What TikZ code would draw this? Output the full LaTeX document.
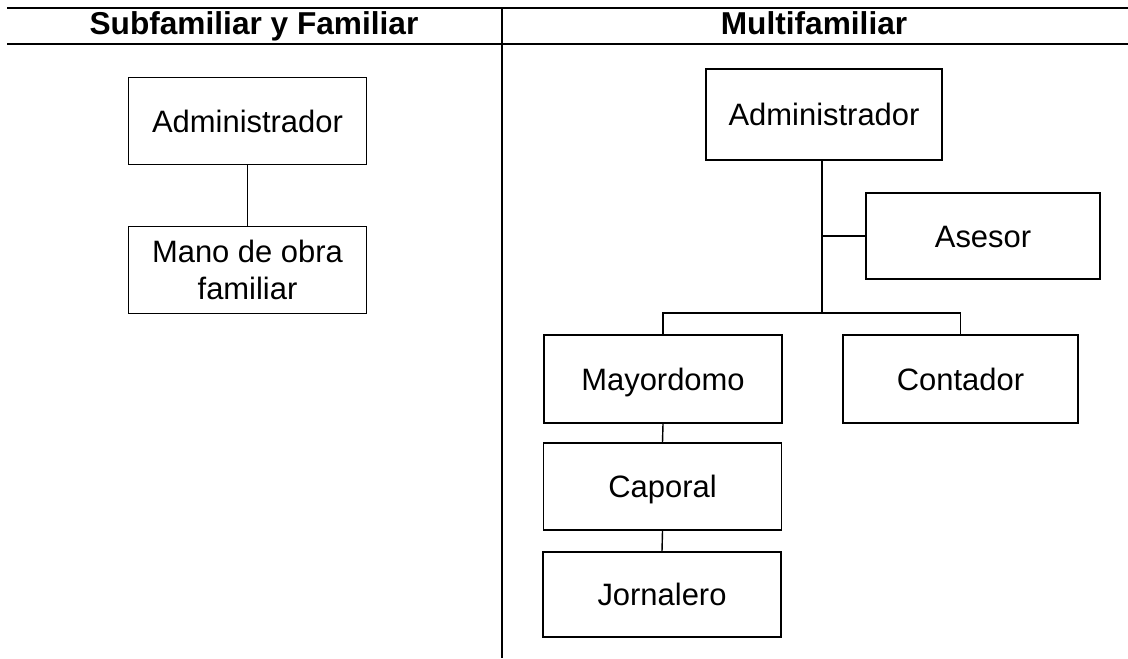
\documentclass[tikz,border=0pt]{standalone}
\usepackage{fontspec}
\setmainfont{Liberation Sans}
\usepackage{tikz}
\usetikzlibrary{positioning}
\tikzset{
  cargo/.style={draw, line width=1.3pt, minimum width=#1, minimum height=87*0.025cm, inner sep=0pt, align=center, font=\fontsize{22}{26}\selectfont, text height=16pt, text depth=0pt},
  cargo/.default=5.95cm,
  titulo/.style={font=\fontsize{22.5}{26}\selectfont\bfseries, anchor=base, inner sep=0pt},
  linea/.style={line width=1pt}
}

\begin{document}
\begin{tikzpicture}[x=0.025cm, y=-0.025cm]
	\useasboundingbox (0,0) rectangle (1128,658);
	% encabezado
	\draw[line width=1.4pt] (7,8)--(1128,8);
	\draw[line width=1.4pt] (7,44)--(1128,44);
	\draw[line width=1pt] (502,8)--(502,658);
	\node[titulo] (subfam) at (254,34) {Subfamiliar y Familiar};
	\node[titulo] (multi) at (814,34) {Multifamiliar};
	% subfamiliar y familiar
	\node[cargo] (admL) at (247.5,121) {Administrador};
	\node[cargo, text height=, text depth=] (manoL) at (247.5,270) {Mano de obra\\familiar};
	\draw[linea] (admL.south)--(manoL.north);
	% multifamiliar
	\node[cargo=5.9cm, minimum height=91*0.025cm] (admR) at (824,114.5) {Administrador};
	\node[cargo=5.85cm, minimum height=86*0.025cm] (asesor) at (983,236) {Asesor};
	\node[cargo, minimum height=88*0.025cm] (mayor) at (663,379) {Mayordomo};
	\node[cargo=5.875cm, minimum height=88*0.025cm] (contador) at (960.5,379) {Contador};
	\node[cargo] (caporal) at (662.5,486.5) {Caporal};
	\node[cargo, minimum height=85*0.025cm] (jornal) at (662,594.5) {Jornalero};
	\coordinate (bus) at (822,313);
	\draw[linea] (admR.south-|bus)--(bus);
	\draw[linea] (asesor.west-|bus)--(asesor.west);
	\draw[linea] (mayor.north)|-(bus)-|(contador.north);
	\draw[linea] (mayor.south)--(caporal.north);
	\draw[linea] (caporal.south)--(jornal.north);
\end{tikzpicture}
\end{document}
